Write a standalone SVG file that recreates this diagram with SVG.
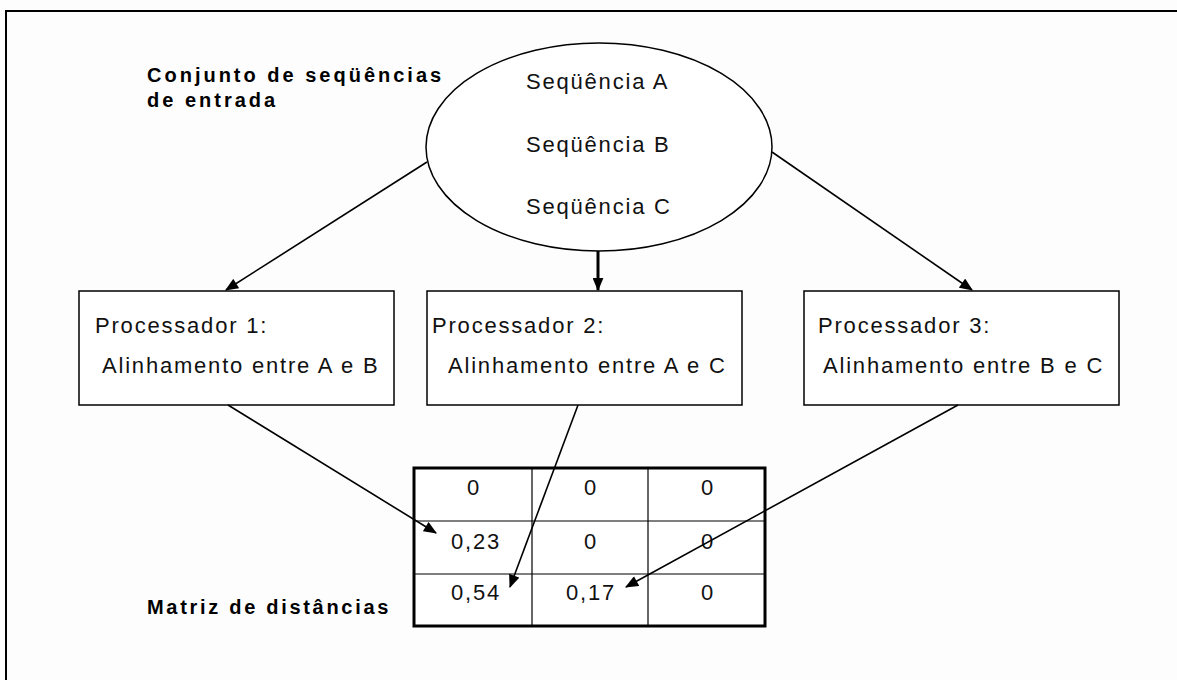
<svg xmlns="http://www.w3.org/2000/svg" width="1177" height="680" viewBox="0 0 1177 680">
  <style>
    .t { font-family: "Liberation Sans", Arial, sans-serif; font-size: 22px; letter-spacing: 1.8px; fill: #111; }
    .b { font-family: "Liberation Sans", Arial, sans-serif; font-size: 20px; font-weight: bold; letter-spacing: 3px; fill: #000; }
    .box { fill: #fff; stroke: #000; stroke-width: 1.5; }
    .edge { stroke: #000; stroke-width: 1.6; fill: none; marker-end: url(#head); }
    .edge-thick { stroke: #000; stroke-width: 3; fill: none; marker-end: url(#head2); }
    .grid { stroke: #000; stroke-width: 1.2; }
    .c { text-anchor: middle; }
  </style>
  <defs>
    <marker id="head" viewBox="0 0 12 10" refX="11" refY="5" markerUnits="userSpaceOnUse" markerWidth="14" markerHeight="11" orient="auto">
      <path d="M0,0 L12,5 L0,10 z" fill="#000"/>
    </marker>
    <marker id="head2" viewBox="0 0 12 10" refX="11" refY="5" markerUnits="userSpaceOnUse" markerWidth="13" markerHeight="11" orient="auto">
      <path d="M0,0 L12,5 L0,10 z" fill="#000"/>
    </marker>
  </defs>

  <rect width="1177" height="680" fill="#fdfdfd"/>
  <!-- page frame -->
  <path d="M6,690 V11 H1190" fill="none" stroke="#000" stroke-width="2"/>

  <g id="label-entrada">
    <text class="b" x="147" y="82">Conjunto de seqüências</text>
    <text class="b" x="147" y="107">de entrada</text>
  </g>

  <g id="sequencias">
    <ellipse cx="599" cy="147" rx="173" ry="104" fill="#fff" stroke="#000" stroke-width="1.5"/>
    <text class="t" x="526" y="89">Seqüência A</text>
    <text class="t" x="526" y="152">Seqüência B</text>
    <text class="t" x="526" y="214">Seqüência C</text>
  </g>

  <g id="proc1">
    <rect class="box" x="79" y="291" width="315" height="114"/>
    <text class="t" x="95" y="333">Processador 1:</text>
    <text class="t" x="102" y="373">Alinhamento entre A e B</text>
  </g>

  <g id="proc2">
    <rect class="box" x="427" y="291" width="315" height="114"/>
    <text class="t" x="432" y="333">Processador 2:</text>
    <text class="t" x="448" y="373">Alinhamento entre A e C</text>
  </g>

  <g id="proc3">
    <rect class="box" x="804" y="291" width="315" height="114"/>
    <text class="t" x="818" y="333">Processador 3:</text>
    <text class="t" x="823" y="373">Alinhamento entre B e C</text>
  </g>

  <g id="matriz">
    <rect x="414" y="468" width="351" height="158" fill="#fff" stroke="#000" stroke-width="3"/>
    <line class="grid" x1="532" y1="468" x2="532" y2="626"/>
    <line class="grid" x1="648" y1="468" x2="648" y2="626"/>
    <line class="grid" x1="414" y1="521" x2="765" y2="521"/>
    <line class="grid" x1="414" y1="574" x2="765" y2="574"/>
    <text class="t c" x="474" y="495">0</text>
    <text class="t c" x="591" y="495">0</text>
    <text class="t c" x="708" y="495">0</text>
    <text class="t c" x="476" y="549">0,23</text>
    <text class="t c" x="591" y="549">0</text>
    <text class="t c" x="708" y="549">0</text>
    <text class="t c" x="476" y="600">0,54</text>
    <text class="t c" x="591" y="600">0,17</text>
    <text class="t c" x="708" y="600">0</text>
  </g>

  <g id="label-matriz">
    <text class="b" x="147" y="614" style="letter-spacing:2.7px">Matriz de distâncias</text>
  </g>

  <g id="connectors">
    <line class="edge" x1="427" y1="162" x2="226" y2="290"/>
    <line class="edge-thick" x1="598" y1="251" x2="598" y2="290"/>
    <line class="edge" x1="772" y1="152" x2="972" y2="290"/>
    <line class="edge" x1="228" y1="405" x2="436" y2="533"/>
    <line class="edge" x1="578" y1="405" x2="510" y2="587"/>
    <line class="edge" x1="958" y1="405" x2="626" y2="587"/>
  </g>
</svg>
